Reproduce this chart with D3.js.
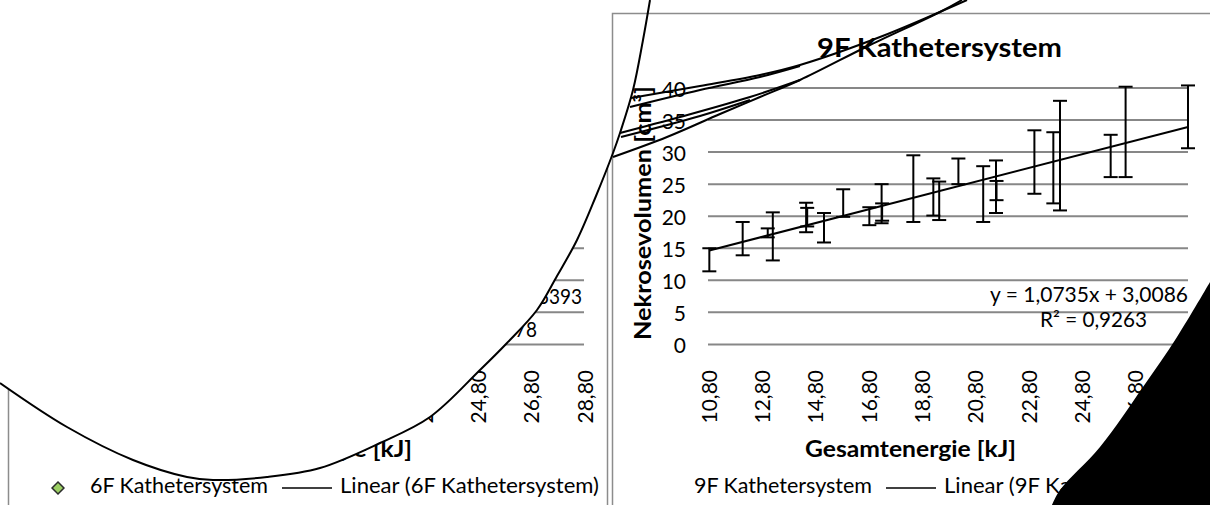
<!DOCTYPE html>
<html>
<head>
<meta charset="utf-8">
<script src="https://cdn.jsdelivr.net/npm/d3@7"></script>
<style>
  body { margin: 0; background: #fff; }
  svg { display: block; font-family: Lato, "Open Sans", sans-serif; }
</style>
</head>
<body>
<svg id="chart" width="1210" height="505"></svg>
<script>
const X_TICKS = [10.8, 12.8, 14.8, 16.8, 18.8, 20.8, 22.8, 24.8, 26.8, 28.8];
const Y_TICKS = [0, 5, 10, 15, 20, 25, 30, 35, 40];

// 9F series: energy [kJ], mean necrosis volume [cm3], error (+/-)
const KJ_9F  = [10.85, 12.1, 13.04, 13.23, 14.48, 14.52, 15.15, 15.87, 16.85, 17.31, 17.33, 18.5,
                19.25, 19.47, 20.19, 21.12, 21.6, 21.62, 23.04, 23.75, 24.0, 25.9, 26.46, 28.8];
const VOL_9F = [13.2, 16.5, 17.4, 16.85, 19.8, 19.85, 18.2, 22.05, 20.0, 21.95, 20.65, 24.3,
                23.0, 22.4, 27.0, 23.45, 24.6, 24.0, 28.45, 27.55, 29.45, 29.4, 33.15, 35.5];
const ERR_9F = [1.8, 2.6, 0.7, 3.75, 2.3, 1.45, 2.3, 2.15, 1.4, 3.05, 1.35, 5.2,
                2.9, 3.0, 2.0, 4.35, 4.1, 1.5, 4.95, 5.55, 8.55, 3.3, 7.05, 4.9];
const TREND_9F = [1.0735, 3.0086];   // slope, intercept
const EQ_9F = ["y = 1,0735x + 3,0086", "R² = 0,9263"];
// 6F chart: only the tail of its trend label is still visible
const EQ_6F = ["3393", "78"];

const svg = d3.select("#chart");
const fmt = v => d3.format(".2f")(v).replace(".", ",");

function drawChart(ox, cfg) {
  const g = svg.append("g").attr("transform", "translate(" + ox + ",0)");
  const x = d3.scaleLinear().domain([10.8, 28.8]).range([104, 584]);
  const y = d3.scaleLinear().domain([0, 40]).range([344.4, 88]);

  g.append("rect")
    .attr("x", 8.5).attr("y", 13.5).attr("width", 599).attr("height", 500)
    .attr("fill", "none").attr("stroke", "#8c8c8c").attr("stroke-width", 1.5);

  // gridlines
  g.selectAll(".grid").data(Y_TICKS).join("line")
    .attr("x1", 104).attr("x2", 584)
    .attr("y1", d => y(d)).attr("y2", d => y(d))
    .attr("stroke", "#878787").attr("stroke-width", 2);

  g.selectAll(".ylab").data(Y_TICKS).join("text")
    .attr("x", 82).attr("y", d => y(d))
    .attr("text-anchor", "end").attr("dominant-baseline", "central")
    .attr("font-size", 21).attr("fill", "#000")
    .text(d => d);

  g.selectAll(".xlab").data(X_TICKS).join("text")
    .attr("transform", d => "translate(" + x(d) + ",370) rotate(-90)")
    .attr("text-anchor", "end").attr("dominant-baseline", "central")
    .attr("font-size", 21).attr("fill", "#000")
    .text(fmt);

  g.append("text")
    .attr("x", 335.5).attr("y", 57).attr("text-anchor", "middle")
    .attr("font-size", 26).attr("font-weight", "bold")
    .attr("textLength", 245).attr("lengthAdjust", "spacingAndGlyphs")
    .text(cfg.name);

  g.append("text")
    .attr("transform", "translate(38,213) rotate(-90)")
    .attr("text-anchor", "middle").attr("dominant-baseline", "central")
    .attr("font-size", 22).attr("font-weight", "bold")
    .attr("textLength", 254).attr("lengthAdjust", "spacingAndGlyphs")
    .text("Nekrosevolumen [cm³]");

  g.append("text")
    .attr("x", 306.5).attr("y", 457).attr("text-anchor", "middle")
    .attr("font-size", 22).attr("font-weight", "bold")
    .attr("textLength", 211).attr("lengthAdjust", "spacingAndGlyphs")
    .text("Gesamtenergie [kJ]");

  // legend
  if (cfg.marker) {
    g.append("path")
      .attr("d", d3.symbol(d3.symbolDiamond2, 90)())
      .attr("transform", "translate(58,488)")
      .attr("fill", "#9bcf63").attr("stroke", "#2b2b2b").attr("stroke-width", 1.5);
  }
  g.append("text").attr("x", 90).attr("y", 493).attr("font-size", 21)
    .attr("textLength", 178).attr("lengthAdjust", "spacingAndGlyphs")
    .text(cfg.name);
  g.append("line").attr("x1", 282).attr("x2", 332).attr("y1", 488).attr("y2", 488)
    .attr("stroke", "#000").attr("stroke-width", 1.5);
  g.append("text").attr("x", 340).attr("y", 493).attr("font-size", 21)
    .attr("textLength", 259).attr("lengthAdjust", "spacingAndGlyphs")
    .text("Linear (" + cfg.name + ")");

  return { g, x, y };
}

// ---- left chart (6F) ----
const left = drawChart(0, { name: "6F Kathetersystem", marker: true });
left.g.append("text").attr("x", 582).attr("y", 304).attr("text-anchor", "end")
  .attr("font-size", 22).attr("textLength", 44).attr("lengthAdjust", "spacingAndGlyphs")
  .text(EQ_6F[0]);
left.g.append("text").attr("x", 537).attr("y", 337).attr("text-anchor", "end")
  .attr("font-size", 22).attr("textLength", 22).attr("lengthAdjust", "spacingAndGlyphs")
  .text(EQ_6F[1]);

// white ellipse wiping most of the 6F chart
const ELLIPSE_EDGE = [[650, 0], [643, 40], [633, 90], [620, 133], [613, 153], [596, 196], [577, 240],
  [557, 276], [537, 310], [507, 343], [480, 370], [430, 417], [380, 443], [320, 468], [267, 477],
  [213, 480], [187, 477], [133, 460], [67, 427], [0, 383]];
const curve = d3.line().curve(d3.curveCatmullRom);
svg.append("path")
  .attr("d", curve(ELLIPSE_EDGE) + "L0,0L650,0Z")
  .attr("fill", "#fff");

// ---- right chart (9F) ----
const right = drawChart(604, { name: "9F Kathetersystem", marker: false });
const rx = right.x, ry = right.y;
const pts = KJ_9F.map((k, i) => ({ k, v: VOL_9F[i], e: ERR_9F[i] }));
const bars = right.g.selectAll(".err").data(pts).join("g");
bars.append("line")
  .attr("x1", d => rx(d.k)).attr("x2", d => rx(d.k))
  .attr("y1", d => ry(d.v - d.e)).attr("y2", d => ry(d.v + d.e));
bars.append("line")
  .attr("x1", d => rx(d.k) - 7).attr("x2", d => rx(d.k) + 7)
  .attr("y1", d => ry(d.v + d.e)).attr("y2", d => ry(d.v + d.e));
bars.append("line")
  .attr("x1", d => rx(d.k) - 7).attr("x2", d => rx(d.k) + 7)
  .attr("y1", d => ry(d.v - d.e)).attr("y2", d => ry(d.v - d.e));
bars.selectAll("line").attr("stroke", "#000").attr("stroke-width", 2);

const kMin = d3.min(KJ_9F), kMax = d3.max(KJ_9F);
right.g.append("line")
  .attr("x1", rx(kMin)).attr("y1", ry(TREND_9F[0] * kMin + TREND_9F[1]))
  .attr("x2", rx(kMax)).attr("y2", ry(TREND_9F[0] * kMax + TREND_9F[1]))
  .attr("stroke", "#000").attr("stroke-width", 2);

right.g.append("text").attr("x", 485).attr("y", 302).attr("text-anchor", "middle")
  .attr("font-size", 21).attr("textLength", 198).attr("lengthAdjust", "spacingAndGlyphs")
  .text(EQ_9F[0]);
right.g.append("text").attr("x", 489.5).attr("y", 327).attr("text-anchor", "middle")
  .attr("font-size", 21).attr("textLength", 107).attr("lengthAdjust", "spacingAndGlyphs")
  .text(EQ_9F[1]);

// ---- scribbled overlay ----
const STROKES = [
  ELLIPSE_EDGE,
  [[631, 98], [700, 86], [760, 75], [800, 65], [880, 37], [967, 0]],
  [[630, 107], [700, 90], [760, 77], [800, 66]],
  [[613, 157], [667, 137], [720, 114], [760, 97], [800, 80], [870, 45], [940, 12], [962, 0]],
  [[620, 133], [680, 117], [750, 97], [800, 80]],
  [[621, 137], [700, 116], [750, 100]]
];
svg.selectAll(".scribble").data(STROKES).join("path")
  .attr("d", d => curve(d))
  .attr("fill", "none").attr("stroke", "#000").attr("stroke-width", 2);

const BLOB = [[1210, 282], [1177, 337], [1143, 387], [1100, 447], [1060, 490], [1052, 505]];
svg.append("path")
  .attr("d", curve(BLOB) + "L1210,505Z")
  .attr("fill", "#000");
</script>
</body>
</html>
